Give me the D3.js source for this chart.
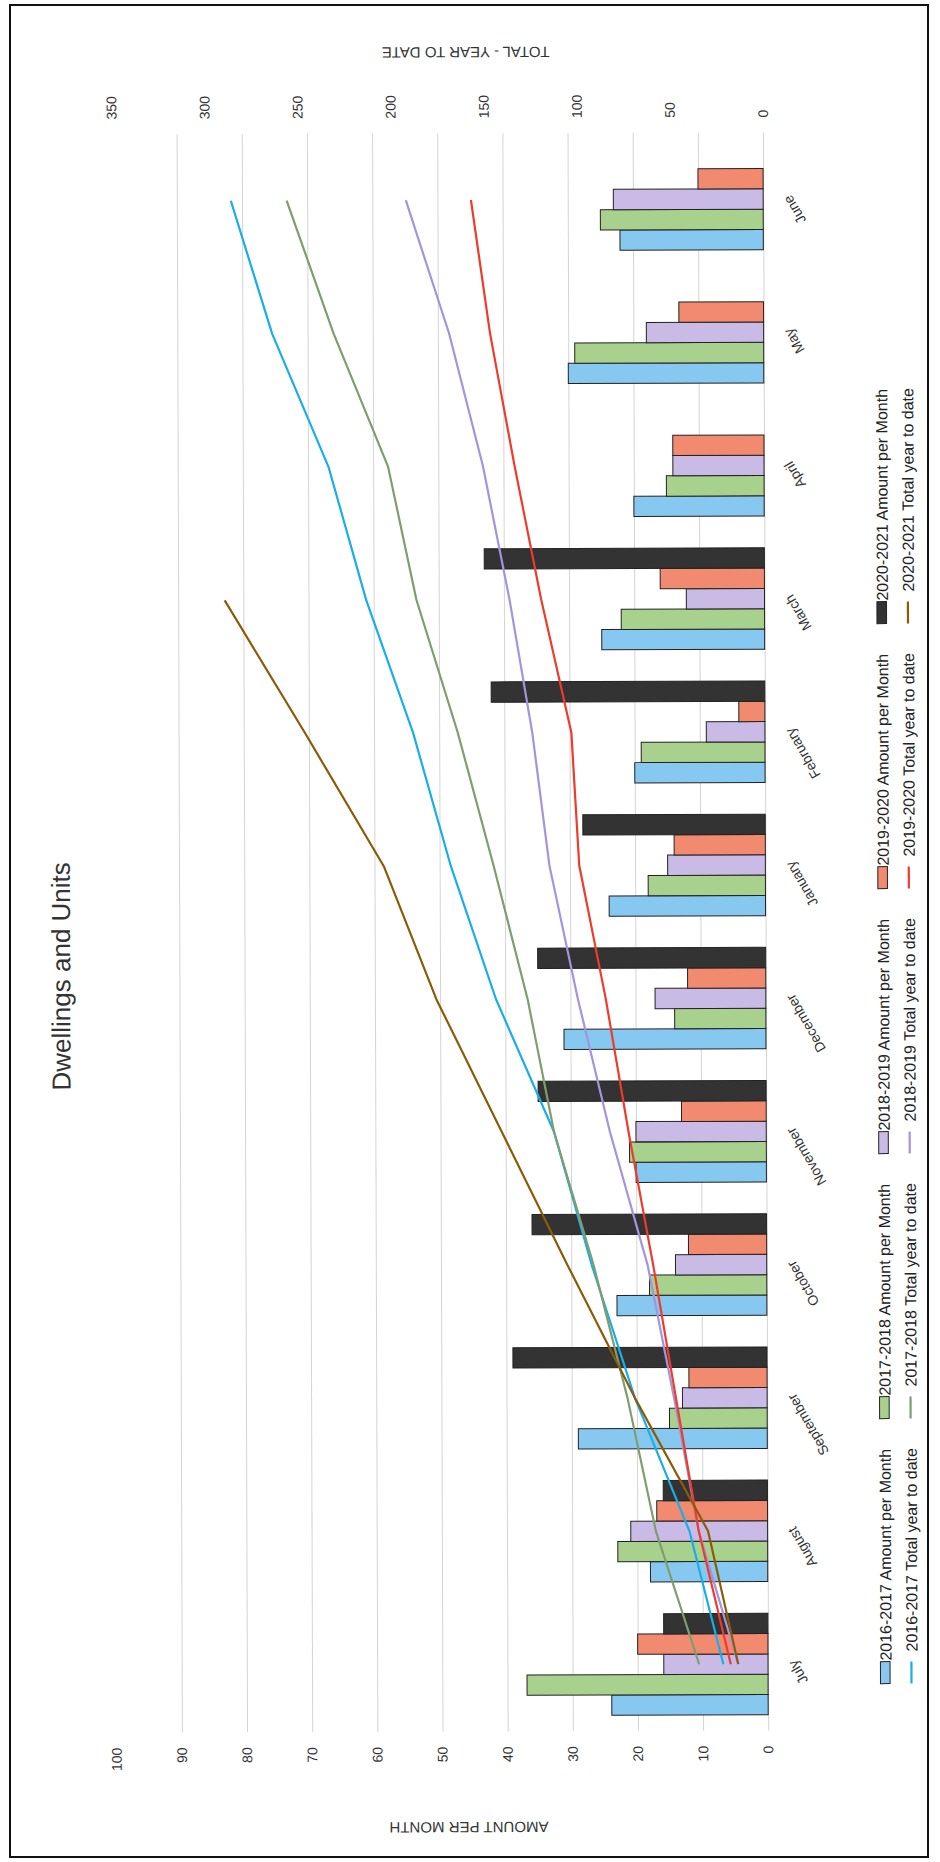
<!DOCTYPE html>
<html><head><meta charset="utf-8">
<script src="https://cdn.jsdelivr.net/npm/d3@7"></script>
<style>body{margin:0;background:#fff}svg{display:block;font-family:"Liberation Sans",Arial,sans-serif}</style>
</head><body><svg id="c" width="940" height="1862"></svg>
<script>
const months = ["July","August","September","October","November","December","January","February","March","April","May","June"];
const seriesNames = ["2016-2017","2017-2018","2018-2019","2019-2020","2020-2021"];
const amount1617 = [24,18,29,23,20,31,24,20,25,20,30,22];
const amount1718 = [37,23,15,18,21,14,18,19,22,15,29,25];
const amount1819 = [16,21,13,14,20,17,15,9,12,14,18,23];
const amount1920 = [20,17,12,12,13,12,14,4,16,14,13,10];
const amount2021 = [16,16,39,36,35,35,28,42,43,null,null,null];
const total1617 = [24,42,71,94,114,145,169,189,214,234,264,286];
const total1718 = [37,60,75,93,114,128,146,165,187,202,231,256];
const total1819 = [16,37,50,64,84,101,116,125,137,151,169,192];
const total1920 = [20,37,49,61,74,86,100,104,120,134,147,157];
const total2021 = [16,32,71,107,142,177,205,247,290,null,null,null];
const leftTicks = [0,10,20,30,40,50,60,70,80,90,100];
const rightTicks = [0,50,100,150,200,250,300,350];
const titleText = "Dwellings and Units";
const leftTitle = "AMOUNT PER MONTH";
const rightTitle = "TOTAL - YEAR TO DATE";

const amounts = [amount1617, amount1718, amount1819, amount1920, amount2021];
const totals = [total1617, total1718, total1819, total1920, total2021];
const barColors = ["#86C8F0","#A9D18E","#C9BBE6","#F28A70","#333333"];
const lineColors = ["#1AAEE8","#7E9E6E","#A394DC","#EE3B2B","#8A5C0A"];

const svg = d3.select("#c");
svg.append("rect").attr("x",10).attr("y",5).attr("width",918).attr("height",1852)
  .attr("fill","none").attr("stroke","#111").attr("stroke-width",2);

// landscape chart drawn then rotated into the portrait page
const g = svg.append("g").attr("transform","rotate(-0.19,470,931) translate(0,1862) rotate(-90)");

const X0 = 130.4, X1 = 1728.6;
const x0 = d3.scaleBand().domain(months).range([X0, X1]).paddingInner(0.238).paddingOuter(0.119);
const x1 = d3.scaleBand().domain(seriesNames).range([0, x0.bandwidth()]);
const yL = d3.scaleLinear().domain([0,100]).range([765.6, 114.1]);
const yR = d3.scaleLinear().domain([0,350]).range([765.6, 114.1]);

// gridlines
const grid = g.append("g").attr("transform",`translate(${X0},0)`)
  .call(d3.axisLeft(yL).tickValues(leftTicks.filter(t=>t<100)).tickSize(-(X1-X0)).tickFormat(""));
grid.select(".domain").remove();
grid.selectAll("line").attr("stroke","#d4d4d4").attr("stroke-width",1);

// left axis labels
const la = g.append("g").attr("transform",`translate(${X0},0)`)
  .call(d3.axisLeft(yL).tickValues(leftTicks).tickSize(0).tickPadding(15));
la.select(".domain").remove();
la.selectAll("text").attr("font-size",14).attr("fill","#333").attr("font-family","Liberation Sans, Arial, sans-serif");

// right axis labels
const ra = g.append("g").attr("transform",`translate(${X1},0)`)
  .call(d3.axisRight(yR).tickValues(rightTicks).tickSize(0).tickPadding(15));
ra.select(".domain").remove();
ra.selectAll("text").attr("font-size",14).attr("fill","#333").attr("font-family","Liberation Sans, Arial, sans-serif");

// bars
seriesNames.forEach((s, k) => {
  g.append("g").selectAll("rect")
    .data(amounts[k].map((v,i)=>({m:months[i], v})).filter(d=>d.v!=null))
    .join("rect")
    .attr("x", d => x0(d.m) + x1(s))
    .attr("width", x1.bandwidth())
    .attr("y", d => yL(d.v))
    .attr("height", d => yL(0) - yL(d.v))
    .attr("fill", barColors[k])
    .attr("stroke","#222").attr("stroke-width",1);
});

// lines
const line = d3.line()
  .defined(d => d != null)
  .x((d,i) => x0(months[i]) + x0.bandwidth()/2)
  .y(d => yR(d));
totals.forEach((t,k) => {
  g.append("path").datum(t).attr("d", line).attr("fill","none")
    .attr("stroke", lineColors[k]).attr("stroke-width",2.2).attr("stroke-linejoin","round");
});

// month labels
g.append("g").selectAll("text").data(months).join("text")
  .attr("transform", d => `translate(${x0(d)+x0.bandwidth()/2+5},${yL(0)+28}) rotate(-30)`)
  .attr("text-anchor","end").attr("font-size",14).attr("fill","#333").text(d=>d);

// axis titles
g.append("text").attr("transform","translate(40,466) rotate(-90)").attr("text-anchor","middle")
  .attr("font-size",15).attr("fill","#333").text(leftTitle);
g.append("text").attr("transform","translate(1815,468.5) rotate(-90)").attr("text-anchor","middle")
  .attr("font-size",15).attr("fill","#333").text(rightTitle);

// title
g.append("text").attr("x",887).attr("y",70).attr("text-anchor","middle")
  .attr("font-size",26).attr("fill","#333").text(titleText);

// legend
seriesNames.forEach((s,k) => {
  const cx = 177 + 265*k;
  const lg = g.append("g");
  lg.append("rect").attr("x",cx).attr("y",878).attr("width",22).attr("height",9.6)
    .attr("fill",barColors[k]).attr("stroke","#222").attr("stroke-width",1);
  lg.append("text").attr("x",cx+23).attr("y",889).attr("font-size",16).attr("fill","#222")
    .text(s + " Amount per Month");
  lg.append("line").attr("x1",cx).attr("x2",cx+22).attr("y1",909).attr("y2",909)
    .attr("stroke",lineColors[k]).attr("stroke-width",2.2);
  lg.append("text").attr("x",cx+32).attr("y",915).attr("font-size",16).attr("fill","#222")
    .text(s + " Total year to date");
});
</script></body></html>
